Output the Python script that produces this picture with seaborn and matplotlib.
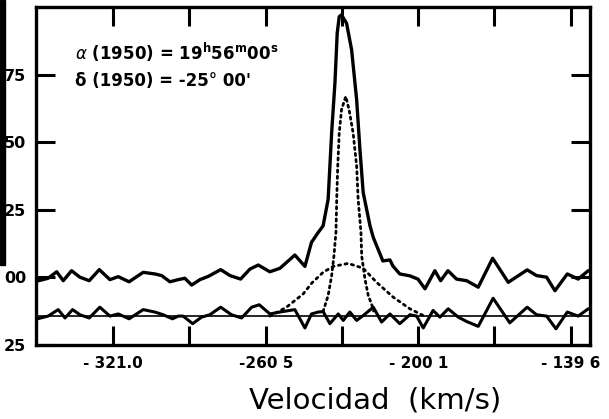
import matplotlib
matplotlib.use("Agg")
import matplotlib.pyplot as plt
import seaborn as sns
import pandas as pd
from matplotlib.patches import Rectangle

# ---------------- data ----------------
spec_vel = [-351.0, -346.8, -343.4, -340.8, -337.5, -334.2, -330.5, -326.5, -322.3, -319.0,
            -314.7, -309.1, -304.5, -301.8, -298.5, -295.2, -292.6, -289.9, -286.6, -283.3,
            -278.4, -274.7, -270.5, -266.8, -263.5, -258.9, -254.9, -249.0, -245.0, -242.4,
            -239.7, -237.8, -235.8, -234.4, -233.1, -232.2, -231.4, -230.5, -228.5, -226.5,
            -224.5, -223.2, -221.9, -219.2, -217.9, -214.1, -211.3, -210.1, -207.4, -203.4,
            -200.2, -197.4, -193.5, -191.2, -188.3, -184.9, -180.9, -176.3, -170.6, -164.4,
            -156.9, -153.2, -149.2, -145.9, -141.0, -136.7, -132.7]
spec_val = [-1.3, -0.3, 2.1, -1.2, 2.5, 0.1, -1.2, 2.9, -0.8, 0.3,
            -1.6, 1.9, 1.3, 0.7, -1.6, -0.8, -0.3, -2.8, -0.8, 0.4,
            2.9, 0.7, -0.6, 3.1, 4.6, 2.1, 3.4, 8.3, 4.1, 13.0,
            16.7, 19.1, 28.9, 53.7, 72.1, 90.5, 96.5, 97.2, 94.1, 84.3,
            65.8, 47.4, 31.4, 19.1, 14.8, 6.1, 6.5, 4.2, 1.3, 0.6,
            -0.6, -4.2, 2.5, -1.2, 2.5, -0.6, -1.2, -3.6, 7.1, -1.8,
            2.8, 0.7, 0.1, -4.9, 1.3, -0.6, 2.5]

resid_vel = [-351.0, -346.8, -342.8, -340.1, -337.1, -334.2, -330.5, -326.3, -322.3, -319.0,
             -314.7, -309.1, -304.5, -301.2, -297.5, -295.2, -293.3, -289.5, -286.0, -282.7,
             -278.4, -274.1, -270.1, -266.1, -263.1, -258.9, -254.9, -249.0, -245.0, -242.4,
             -239.7, -237.8, -235.1, -231.8, -229.8, -227.2, -224.5, -221.9, -217.9, -214.6,
             -211.3, -207.4, -203.4, -200.7, -198.1, -194.2, -191.5, -188.2, -184.2, -180.9,
             -176.3, -170.4, -163.8, -156.9, -153.2, -149.2, -145.5, -141.0, -136.7, -132.7]
resid_val = [-15.3, -14.3, -11.9, -15.0, -11.9, -13.8, -15.0, -11.0, -14.3, -13.5,
             -15.3, -11.9, -12.8, -13.8, -15.3, -14.3, -14.3, -17.1, -14.7, -13.8,
             -11.0, -13.8, -15.0, -11.0, -10.1, -13.5, -12.8, -11.9, -18.7, -13.5,
             -12.8, -12.6, -17.1, -13.5, -15.9, -12.8, -15.9, -14.1, -11.0, -16.5,
             -13.5, -17.1, -13.8, -14.3, -18.7, -12.2, -14.7, -11.6, -14.7, -16.3,
             -18.1, -7.7, -16.8, -11.0, -13.8, -14.3, -19.0, -12.8, -14.3, -11.6]

broad_vel = [-258.9, -252.3, -245.7, -242.2, -237.8, -233.8, -227.8, -221.9, -216.6, -210.0, -203.4, -198.1]
broad_val = [-14.3, -11.0, -6.1, -2.0, 1.9, 4.1, 5.2, 3.4, -1.8, -7.3, -11.6, -14.1]

narrow_vel = [-237.8, -235.8, -234.4, -233.5, -232.7, -232.4, -232.0, -231.4, -230.5, -228.8,
              -227.5, -225.9, -224.5, -223.9, -222.8, -222.5, -221.2, -219.9, -218.6, -217.8]
narrow_val = [-12.6, -6.7, 0.7, 8.0, 16.8, 28.9, 41.2, 53.5, 62.1, 67.0,
              62.1, 53.5, 41.2, 28.9, 16.8, 8.0, -0.6, -6.7, -9.8, -12.4]

baseline_level = -14.3

x_ticks = [-321.0, -290.8, -260.5, -230.3, -200.1, -169.9, -139.6]
x_ticklabels = ["- 321.0", "", "-260 5", "", "- 200 1", "", "- 139 6"]
y_ticks = [-25, 0, 25, 50, 75]
y_ticklabels = ["25", "00", "25", "50", "75"]

# ---------------- figure ----------------
sns.set_style("ticks")
plt.rcParams["font.family"] = ["DejaVu Sans"]
plt.rcParams["text.color"] = "black"
plt.rcParams["xtick.color"] = "black"
plt.rcParams["ytick.color"] = "black"

W, H = 609, 419
fig = plt.figure(figsize=(W / 100, H / 100), dpi=100)
ax = fig.add_axes([36 / W, 1 - 345 / H, (590 - 36) / W, (345 - 7.3) / H])

spec_df = pd.DataFrame({"v": spec_vel, "t": spec_val})
resid_df = pd.DataFrame({"v": resid_vel, "t": resid_val})
broad_df = pd.DataFrame({"v": broad_vel, "t": broad_val})
narrow_df = pd.DataFrame({"v": narrow_vel, "t": narrow_val})

ax.axhline(baseline_level, color="black", lw=1.2, zorder=1)
sns.lineplot(data=broad_df, x="v", y="t", ax=ax, color="black", lw=2.0,
             linestyle=(0, (0.8, 1.6)), dash_capstyle="round", sort=False, zorder=2)
sns.lineplot(data=narrow_df, x="v", y="t", ax=ax, color="black", lw=2.0,
             linestyle=(0, (0.8, 1.4)), dash_capstyle="round", sort=False, zorder=2)
sns.lineplot(data=spec_df, x="v", y="t", ax=ax, color="black", lw=2.4, sort=False, zorder=3)
sns.lineplot(data=resid_df, x="v", y="t", ax=ax, color="black", lw=2.2, sort=False, zorder=3)

ax.set_xlim(-351.6, -132.0)
ax.set_ylim(-25, 100)

ax.set_xticks(x_ticks)
ax.set_xticklabels(x_ticklabels, fontsize=11, fontweight="bold", color="black")
ax.set_yticks(y_ticks)
ax.set_yticklabels(y_ticklabels, fontsize=11.5, fontweight="bold", color="black")
ax.tick_params(axis="x", direction="in", length=14, width=2.2, top=True, bottom=True, pad=8,
               color="black")
ax.tick_params(axis="y", direction="in", length=14, width=2.2, left=True, right=True, pad=7,
               color="black")
for s in ax.spines.values():
    s.set_visible(True)
    s.set_linewidth(2.4)
    s.set_color("black")
ax.set_xlabel("")
ax.set_ylabel("")

ax.text(-336.2, 80.6,
        r"$\alpha$ (1950) = 19$^{\mathbf{h}}$56$^{\mathbf{m}}$00$^{\mathbf{s}}$",
        fontsize=12, fontweight="bold", va="baseline", ha="left", color="black")
ax.text(-336.2, 71.0, "δ (1950) = -25° 00'",
        fontsize=12, fontweight="bold", va="baseline", ha="left", color="black")

fig.text(375 / W, 1 - 400 / H, "Velocidad  (km/s)", fontsize=21,
         ha="center", va="center", color="black", fontweight="normal")

fig.patches.append(Rectangle((0, 1 - 265 / H), 5 / W, 265 / H,
                             transform=fig.transFigure, color="black", zorder=0))

fig.savefig("out.png", dpi=100)
